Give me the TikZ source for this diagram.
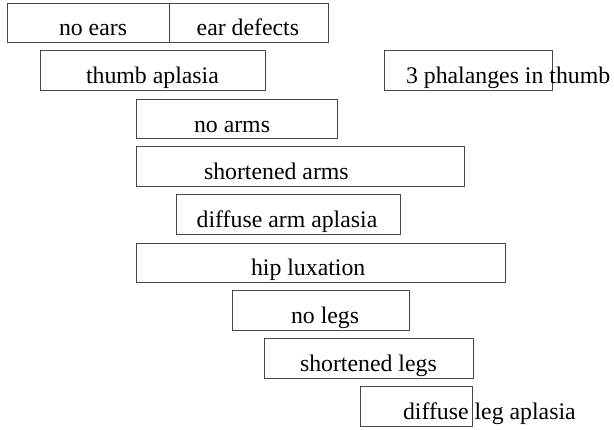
\documentclass[tikz,border=0pt]{standalone}
\usepackage{fontspec}
\setmainfont{Liberation Serif}
\begin{document}
\begin{tikzpicture}[x=1pt,y=-1pt,
  bx/.style={draw=black!72, line width=1pt, rectangle, inner sep=0pt, outer sep=0pt, anchor=north west},
  lbl/.style={inner sep=0pt, outer sep=0pt, anchor=base west, font=\fontsize{23.8}{28}\selectfont}]
\useasboundingbox (0,0) rectangle (614,430);
% boxes
\node[bx, minimum width=161.5pt, minimum height=39.4pt] (b1) at (7.5,3.3) {};
\node[bx, minimum width=159.3pt, minimum height=39.4pt] (b2) at (169,3.3) {};
\node[bx, minimum width=224.3pt, minimum height=40pt] (b3) at (40.7,51) {};
\node[bx, minimum width=168.4pt, minimum height=40pt] (b4) at (384.3,51) {};
\node[bx, minimum width=200.3pt, minimum height=39.7pt] (b5) at (136.7,99.3) {};
\node[bx, minimum width=327.8pt, minimum height=40pt] (b6) at (136.7,147) {};
\node[bx, minimum width=224.1pt, minimum height=40pt] (b7) at (176.7,195) {};
\node[bx, minimum width=368.3pt, minimum height=39.7pt] (b8) at (136.7,243.3) {};
\node[bx, minimum width=176.3pt, minimum height=40pt] (b9) at (232.7,291) {};
\node[bx, minimum width=209pt, minimum height=40pt] (b10) at (264.3,339) {};
\node[bx, minimum width=112pt, minimum height=40pt] (b11) at (360.7,387) {};
% labels
\node[lbl] (t1) at (59,35.2) {no ears};
\node[lbl] (t2) at (196.7,35.2) {ear defects};
\node[lbl] (t3) at (86,83.3) {thumb aplasia};
\node[lbl] (t4) at (406,83.3) {3 phalanges in thumb};
\node[lbl] (t5) at (194,132.2) {no arms};
\node[lbl] (t6) at (204,179.5) {shortened arms};
\node[lbl] (t7) at (196.7,227.5) {diffuse arm aplasia};
\node[lbl] (t8) at (251,275.5) {hip luxation};
\node[lbl] (t9) at (291,323.5) {no legs};
\node[lbl] (t10) at (300,371.5) {shortened legs};
\node[lbl] (t11) at (403,419.5) {diffuse leg aplasia};
\end{tikzpicture}
\end{document}
